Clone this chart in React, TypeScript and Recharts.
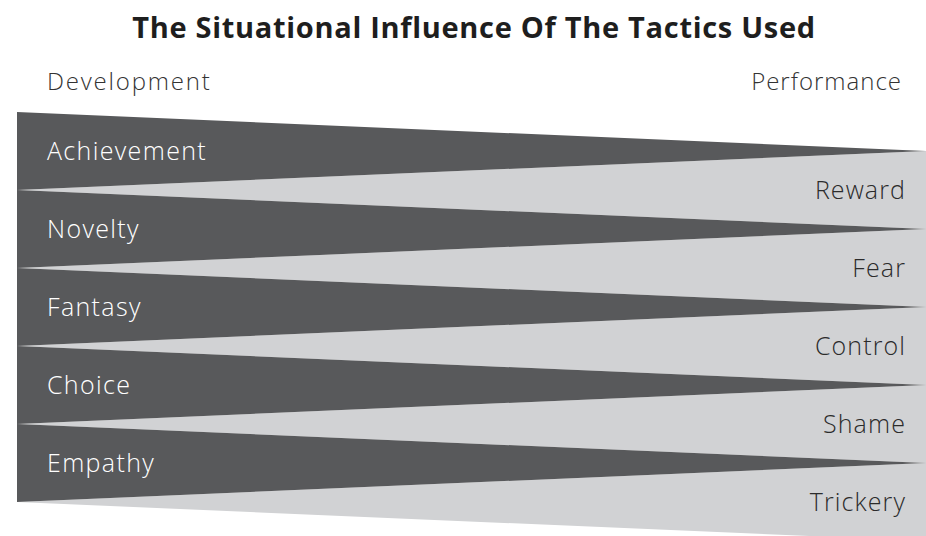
import React from 'react';
import { ComposedChart, Area, XAxis, YAxis, ReferenceDot } from 'recharts';

const title = 'The Situational Influence Of The Tactics Used';
const leftHeader = 'Development';
const rightHeader = 'Performance';
const leftCategories = ['Achievement', 'Novelty', 'Fantasy', 'Choice', 'Empathy'];
const rightCategories = ['Reward', 'Fear', 'Control', 'Shame', 'Trickery'];
// dark wedges: span at left edge, apex at right edge
const darkLeftSpan = [[0, 2], [2, 4], [4, 6], [6, 8], [8, 10]];
const darkRightApex = [1, 3, 5, 7, 9];
// light wedges: apex at left edge, span at right edge
const lightLeftApex = [2, 4, 6, 8, 10];
const lightRightSpan = [[1, 3], [3, 5], [5, 7], [7, 9], [9, 11]];

const DARK = '#58595b';
const LIGHT = '#d1d2d4';

const leftRow: Record<string, any> = { x: 0 };
const rightRow: Record<string, any> = { x: 1 };
leftCategories.forEach((_, i) => {
  leftRow[`dark${i}`] = darkLeftSpan[i];
  rightRow[`dark${i}`] = [darkRightApex[i], darkRightApex[i]];
});
rightCategories.forEach((_, i) => {
  leftRow[`light${i}`] = [lightLeftApex[i], lightLeftApex[i]];
  rightRow[`light${i}`] = lightRightSpan[i];
});
const data = [leftRow, rightRow];

const labelFont = '"Open Sans", Lato, sans-serif';

export default function App() {
  return (
    <div style={{ position: 'absolute', left: 0, top: 0, width: 926, height: 536, overflow: 'hidden', background: '#fff' }}>
      <div style={{ position: 'absolute', left: 11, top: 9, width: 926, textAlign: 'center', fontFamily: labelFont, fontWeight: 700, fontSize: 29, letterSpacing: 0.7, color: '#1e1e1e', lineHeight: '36px', whiteSpace: 'nowrap' }}>
        {title}
      </div>
      <div style={{ position: 'absolute', left: 47, top: 65, fontFamily: labelFont, fontWeight: 300, fontSize: 24, letterSpacing: 1.8, color: '#333', lineHeight: '32px' }}>
        {leftHeader}
      </div>
      <div style={{ position: 'absolute', right: 24, top: 65, fontFamily: labelFont, fontWeight: 300, fontSize: 24, letterSpacing: 1.0, color: '#333', lineHeight: '32px' }}>
        {rightHeader}
      </div>
      <div style={{ position: 'absolute', left: 0, top: 0 }}>
        <ComposedChart width={926} height={541} data={data} margin={{ top: 112, right: 0, bottom: 0, left: 17 }}>
          <XAxis dataKey="x" type="number" domain={[0, 1]} hide />
          <YAxis type="number" domain={[0, 11]} reversed hide />
          {rightCategories.map((_, i) => (
            <Area key={`l${i}`} type="linear" dataKey={`light${i}`} stroke="none" fill={LIGHT} fillOpacity={1} isAnimationActive={false} dot={false} activeDot={false} />
          ))}
          {leftCategories.map((_, i) => (
            <Area key={`d${i}`} type="linear" dataKey={`dark${i}`} stroke="none" fill={DARK} fillOpacity={1} isAnimationActive={false} dot={false} activeDot={false} />
          ))}
          {leftCategories.map((name, i) => (
            <ReferenceDot key={`ld${i}`} x={0} y={(darkLeftSpan[i][0] + darkLeftSpan[i][1]) / 2} r={0} fill="none" stroke="none"
              label={{ value: name, position: 'right', offset: 30, fill: '#ffffff', fontSize: 25, fontFamily: labelFont, fontWeight: 300, letterSpacing: 1.35 }} />
          ))}
          {rightCategories.map((name, i) => (
            <ReferenceDot key={`rd${i}`} x={1} y={(lightRightSpan[i][0] + lightRightSpan[i][1]) / 2} r={0} fill="none" stroke="none"
              label={{ value: name, position: 'left', offset: 20, fill: '#2b2b2b', fontSize: 25, fontFamily: labelFont, fontWeight: 300, letterSpacing: 1.1 }} />
          ))}
        </ComposedChart>
      </div>
    </div>
  );
}
